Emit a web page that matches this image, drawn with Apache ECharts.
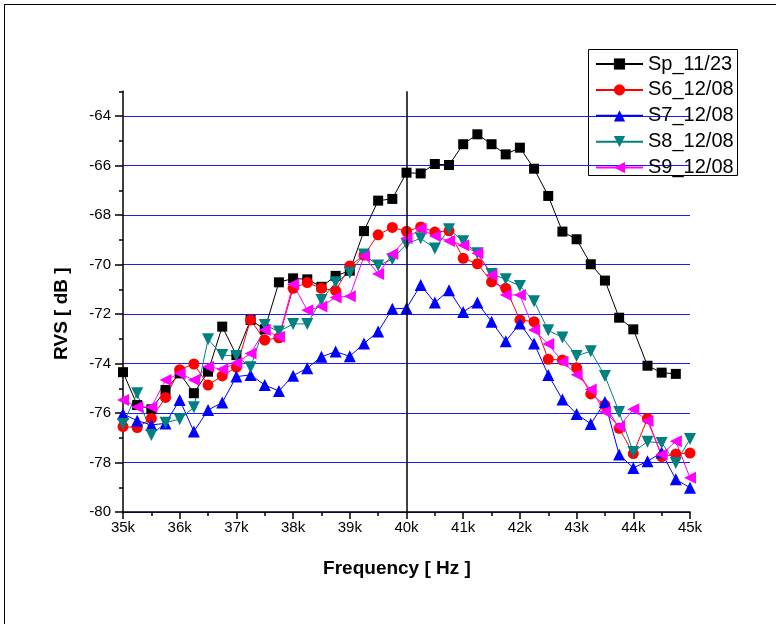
<!DOCTYPE html>
<html>
<head>
<meta charset="utf-8">
<script src="https://cdn.jsdelivr.net/npm/echarts@6/dist/echarts.min.js"></script>
<style>
  html, body { margin: 0; padding: 0; background: #fff; }
  #chart { width: 776px; height: 624px; }
</style>
</head>
<body>
<div id="chart"></div>
<script>
// Frequency points (Hz)
const freqs = [35000, 35250, 35500, 35750, 36000, 36250, 36500, 36750, 37000, 37250,
  37500, 37750, 38000, 38250, 38500, 38750, 39000, 39250, 39500, 39750,
  40000, 40250, 40500, 40750, 41000, 41250, 41500, 41750, 42000, 42250,
  42500, 42750, 43000, 43250, 43500, 43750, 44000, 44250, 44500, 44750, 45000];

// Receiving voltage sensitivity per sensor (dB)
const sp_1123 = [-74.35, -75.68, -75.85, -75.07, -74.4, -75.2, -74.33, -72.51, -73.66, -72.24,
  -72.62, -70.72, -70.56, -70.6, -70.9, -70.46, -70.25, -68.65, -67.42, -67.35,
  -66.29, -66.32, -65.94, -65.98, -65.14, -64.74, -65.14, -65.55, -65.28, -66.13,
  -67.23, -68.67, -68.98, -69.99, -70.65, -72.15, -72.62, -74.09, -74.37, -74.42];
const s6_1208 = [-76.55, -76.59, -76.22, -75.37, -74.25, -74.02, -74.87, -74.5, -74.15, -72.24,
  -73.05, -72.96, -70.96, -70.73, -70.96, -71.06, -70.06, -69.62, -68.8, -68.5,
  -68.66, -68.48, -68.69, -68.64, -69.75, -69.97, -70.7, -70.96, -72.24, -72.31,
  -73.83, -73.86, -74.17, -75.23, -75.68, -76.62, -77.64, -76.22, -77.76, -77.66, -77.62];
const s7_1208 = [-76.04, -76.31, -76.48, -76.42, -75.47, -76.75, -75.88, -75.58, -74.53, -74.46,
  -74.87, -75.11, -74.49, -74.19, -73.73, -73.52, -73.71, -73.19, -72.71, -71.79,
  -71.77, -70.83, -71.54, -71.04, -71.92, -71.54, -72.31, -73.1, -72.38, -73.19,
  -74.46, -75.45, -76.04, -76.44, -75.56, -77.68, -78.22, -77.95, -77.6, -78.68, -79.02];
const s8_1208 = [-76.44, -75.2, -76.89, -76.39, -76.25, -75.77, -73.02, -73.66, -73.7, -74.15,
  -72.44, -72.71, -72.4, -72.4, -71.43, -70.72, -70.33, -69.6, -70.04, -69.79,
  -69.17, -68.94, -69.35, -68.58, -69.06, -69.55, -70.38, -70.6, -70.87, -71.48,
  -72.66, -72.95, -73.7, -73.5, -74.5, -75.96, -77.58, -77.16, -77.21, -78.02, -77.05];
const s9_1208 = [-75.47, -75.76, -75.76, -74.67, -74.4, -74.67, -74.13, -74.23, -73.98, -73.6,
  -72.65, -72.92, -70.8, -71.85, -71.7, -71.33, -71.28, -69.67, -70.38, -69.58,
  -68.94, -68.56, -68.85, -69.05, -69.22, -69.55, -70.42, -71.23, -71.23, -72.65,
  -73.21, -73.93, -74.45, -75.05, -75.95, -76.55, -75.85, -76.32, -77.68, -77.14, -78.62];

// Axis tick values
const yMajorTicks = [-80, -78, -76, -74, -72, -70, -68, -66, -64];
const yMinorTicks = [-79, -77, -75, -73, -71, -69, -67, -65, -63];
const centerFreq = 40000;

const FONT = 'Liberation Sans, Arial, sans-serif';

function pairs(vals) {
  return vals.map((v, i) => [freqs[i], v]);
}

function lineSeries(name, vals, color, symbol, rotate, size) {
  return {
    name: name,
    type: 'line',
    data: pairs(vals),
    symbol: symbol,
    symbolRotate: rotate,
    symbolSize: size,
    showAllSymbol: true,
    lineStyle: { color: color, width: 1 },
    itemStyle: { color: color },
    emphasis: { disabled: true },
    animation: false
  };
}

const series = [
  lineSeries('Sp_11/23', sp_1123, '#000000', 'rect', 0, 10),
  lineSeries('S6_12/08', s6_1208, '#ff0000', 'circle', 0, 11),
  lineSeries('S7_12/08', s7_1208, '#0000ff', 'triangle', 0, 12),
  lineSeries('S8_12/08', s8_1208, '#008080', 'triangle', 180, 12),
  lineSeries('S9_12/08', s9_1208, '#ff00ff', 'triangle', 90, 12)
];

// Vertical marker at the centre frequency
series[0].markLine = {
  silent: true,
  symbol: 'none',
  label: { show: false },
  lineStyle: { color: '#000', width: 1.5, type: 'solid' },
  data: [{ xAxis: centerFreq }],
  animation: false
};

const chart = echarts.init(document.getElementById('chart'), null, { renderer: 'canvas' });

chart.setOption({
  backgroundColor: '#ffffff',
  animation: false,
  grid: { left: 123, right: 86, top: 91.25, bottom: 112, containLabel: false },
  xAxis: {
    type: 'value',
    min: 35000,
    max: 45000,
    interval: 1000,
    name: 'Frequency [ Hz ]',
    nameLocation: 'middle',
    nameGap: 47,
    nameTextStyle: { fontFamily: FONT, fontSize: 19, fontWeight: 'bold', color: '#000', padding: [0, 19, 0, 0] },
    axisLine: { show: true, onZero: false, lineStyle: { color: '#000', width: 1.5 } },
    axisTick: { show: true, inside: false, length: 7, lineStyle: { color: '#000', width: 1.5 } },
    minorTick: { show: true, splitNumber: 2, length: 4, lineStyle: { color: '#000', width: 1.5 } },
    axisLabel: {
      margin: 8,
      fontFamily: FONT, fontSize: 15, color: '#000',
      formatter: v => (v / 1000) + 'k'
    },
    splitLine: { show: false }
  },
  yAxis: [
    {
      type: 'value',
      min: -80,
      max: -63,
      interval: 1,
      name: 'RVS [ dB ]',
      nameLocation: 'middle',
      nameGap: 52,
      nameRotate: 90,
      nameTextStyle: { fontFamily: FONT, fontSize: 19, fontWeight: 'bold', color: '#000', padding: [0, 24, 0, 0] },
      axisLine: { show: true, onZero: false, lineStyle: { color: '#000', width: 1.5 } },
      axisTick: { show: true, customValues: yMajorTicks, length: 8, lineStyle: { color: '#000', width: 1.5 } },
      axisLabel: {
        customValues: yMajorTicks,
        margin: 12,
        fontFamily: FONT, fontSize: 15, color: '#000'
      },
      splitLine: { show: true, lineStyle: { color: '#1a1aff', width: 1 } }
    },
    {
      type: 'value',
      min: -80,
      max: -63,
      position: 'left',
      axisLine: { show: false },
      axisTick: { show: true, customValues: yMinorTicks, length: 4, lineStyle: { color: '#000', width: 1.5 } },
      axisLabel: { show: false },
      splitLine: { show: false }
    }
  ],
  legend: {
    orient: 'vertical',
    left: 595,
    top: 54,
    itemWidth: 47,
    itemHeight: 14,
    itemGap: 5.9,
    padding: 0,
    selectedMode: false,
    textStyle: { fontFamily: FONT, fontSize: 20, color: '#000', lineHeight: 20 },
    data: series.map(s => s.name)
  },
  graphic: [
    {
      type: 'rect',
      z: -1,
      zlevel: 0,
      shape: { x: 588.5, y: 49.5, width: 149, height: 126 },
      style: { fill: '#fff', stroke: '#000', lineWidth: 1 },
      silent: true
    },
    {
      type: 'line',
      shape: { x1: 4, y1: 4.5, x2: 776, y2: 4.5 },
      style: { stroke: '#000', lineWidth: 1 },
      silent: true
    },
    {
      type: 'line',
      shape: { x1: 4.5, y1: 4, x2: 4.5, y2: 624 },
      style: { stroke: '#000', lineWidth: 1 },
      silent: true
    }
  ],
  series: series
});
</script>
</body>
</html>
